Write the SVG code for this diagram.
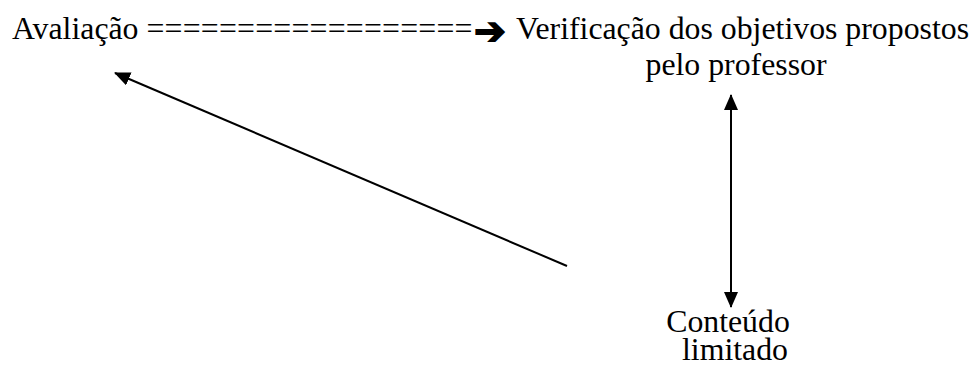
<svg xmlns="http://www.w3.org/2000/svg" width="977" height="371" viewBox="0 0 977 371">
  <style>
    .t { font-family: "Liberation Serif", "Times New Roman", serif; font-size: 31.8px; fill: #000; }
    .sym { font-family: "DejaVu Sans", sans-serif; font-size: 38px; fill: #000; stroke: #000; stroke-width: 1.6; }
    .conn { stroke: #000; stroke-width: 2; fill: none; }
  </style>
  <defs>
    <marker id="head" viewBox="0 0 16 14" refX="15" refY="7" markerWidth="16" markerHeight="14" markerUnits="userSpaceOnUse" orient="auto-start-reverse">
      <path d="M0,0 L16,7 L0,14 Z" fill="#000"/>
    </marker>
  </defs>
  <rect width="977" height="371" fill="#fff"/>

  <g id="avaliacao">
    <text class="t" x="12" y="39">Avaliação <tspan textLength="326" lengthAdjust="spacing">==================</tspan></text>
    <text class="sym" x="474" y="44">➔</text>
  </g>

  <g id="verificacao">
    <text class="t" x="516" y="39">Verificação dos objetivos propostos</text>
    <text class="t" x="736" y="75" text-anchor="middle">pelo professor</text>
  </g>

  <g id="conteudo">
    <text class="t" x="728" y="332" text-anchor="middle">Conteúdo</text>
    <text class="t" x="735" y="360" text-anchor="middle">limitado</text>
  </g>

  <g id="connectors">
    <line class="conn" x1="567" y1="266" x2="115" y2="73" marker-end="url(#head)"/>
    <line class="conn" x1="731" y1="95" x2="731" y2="307" marker-start="url(#head)" marker-end="url(#head)"/>
  </g>
</svg>
